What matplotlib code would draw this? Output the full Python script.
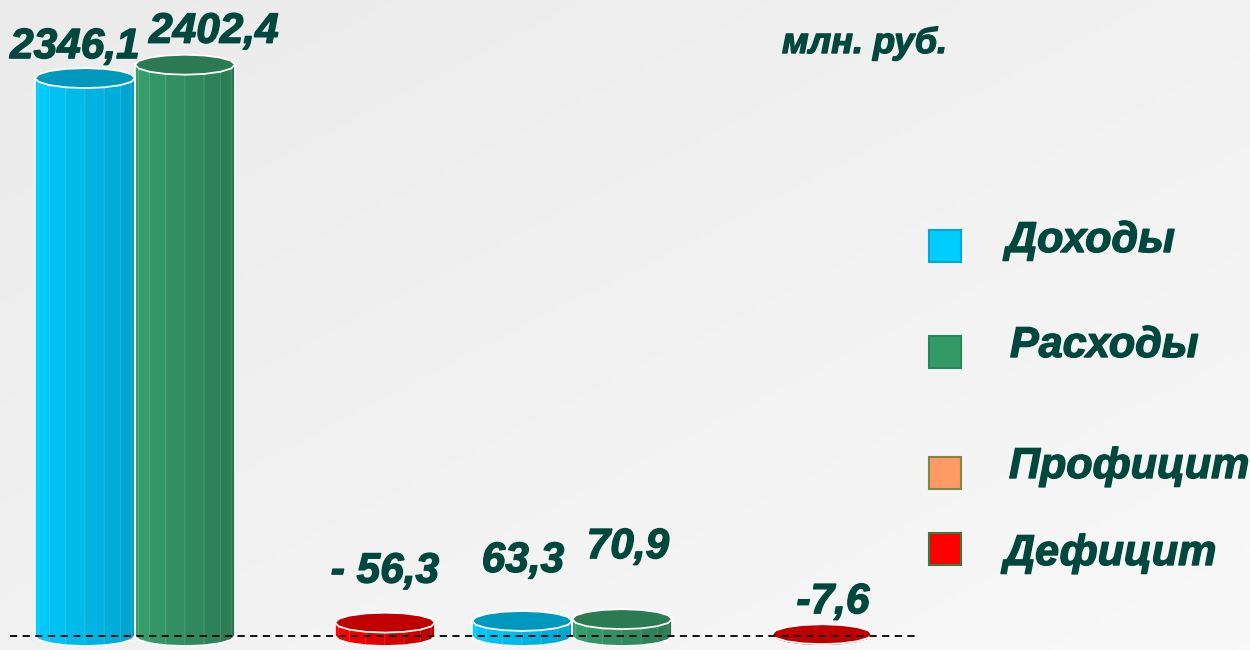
import numpy as np
import matplotlib
matplotlib.use("Agg")
import matplotlib.pyplot as plt
import matplotlib.patheffects as pe
from matplotlib.patches import Polygon, Rectangle
from matplotlib.colors import to_rgb, LinearSegmentedColormap

# --- data ---------------------------------------------------------------
series = ["Доходы", "Расходы", "Профицит", "Дефицит"]
# two clusters, one value per series (None = no bar)
values = [
    [2346.1, 2402.4, None, -56.3],
    [63.3, 70.9, None, -7.6],
]
value_labels = [
    ["2346,1", "2402,4", None, "- 56,3"],
    ["63,3", "70,9", None, "-7,6"],
]
unit_text = "млн. руб."

# --- style --------------------------------------------------------------
TEXT = "#00473E"
FONT = "Liberation Sans"
W, H = 1250, 650
heavy = [pe.withStroke(linewidth=1.0, foreground=TEXT)]
colors = {
    # light face, dark face, cap
    "Доходы": ("#00CCFF", "#009EC8", "#0099BD"),
    "Расходы": ("#35A06C", "#2A7550", "#2B7A52"),
    "Профицит": ("#FF9966", "#CC7040", "#D97A4A"),
    "Дефицит": ("#FF0000", "#B80000", "#C00000"),
}
legend_sq = {
    "Доходы": ("#00CCFF", "#00A8D8"),
    "Расходы": ("#339966", "#22875A"),
    "Профицит": ("#FF9966", "#7A8A40"),
    "Дефицит": ("#FF0000", "#3A7A3A"),
}
slot = 100 / 437
depth_px = 20
px_per_unit = 0.2378
depth = depth_px / px_per_unit

# label offsets (pixels) relative to bar top: dx, dy
label_offsets = [
    [(-10, 20), (29, 22), None, (0, 40)],
    [(1, 49), (6, 61), None, (11, 21)],
]


def mix(c1, c2, t):
    a, b = np.array(to_rgb(c1)), np.array(to_rgb(c2))
    return a + (b - a) * t


def draw_cylinder(ax, xc, h, light, dark, cap):
    n = 8
    theta = np.linspace(np.pi, 0, n + 1)
    xs = xc + slot / 2 * np.cos(theta)
    yb = -depth / 2 * np.sin(theta)
    for i in range(n):
        t = min(1.0, max(0.0, (i - 0.5) / (n - 1.5)))
        col = mix(light, dark, t)
        poly = [(xs[i], yb[i]), (xs[i + 1], yb[i + 1]), (xs[i + 1], h), (xs[i], h)]
        ax.add_patch(Polygon(poly, closed=True, facecolor=col,
                             edgecolor=mix(col, "white", 0.15), lw=0.5, zorder=2))
    outline = [(xs[0], h)] + list(zip(xs, yb)) + [(xs[-1], h)]
    ax.add_patch(Polygon(outline, closed=False, fill=False,
                         edgecolor="white", lw=1.2, zorder=3))
    t = np.linspace(0, 2 * np.pi, 17)
    top = np.c_[xc + slot / 2 * np.cos(t), h + depth / 2 * np.sin(t)]
    ax.add_patch(Polygon(top, closed=True, facecolor=cap,
                         edgecolor="white", lw=1.3, zorder=4))


fig = plt.figure(figsize=(W / 100, H / 100), dpi=100)

# background gradient
bg = fig.add_axes([0, 0, 1, 1], zorder=-1)
gx, gy = np.meshgrid(np.linspace(0, 1, 200), np.linspace(0, 1, 100))
grad = (gx + gy) / 2
bg.imshow(grad, cmap=LinearSegmentedColormap.from_list("bg", ["#EBEBEB", "#F8F8F8"]),
          aspect="auto", extent=[0, 1, 0, 1], origin="upper")
bg.axis("off")

ax = fig.add_axes([0, 0, 1, 1])
ax.patch.set_alpha(0)
ax.axis("off")
ax.set_xlim(-235 / 437, (W - 235) / 437)
ax.set_ylim(-(H - 636) / px_per_unit, 636 / px_per_unit)

for g, group in enumerate(values):
    for s, v in enumerate(group):
        if v is None:
            continue
        xc = g + (s - 1.5) * slot
        h = abs(v)
        light, dark, cap = colors[series[s]]
        draw_cylinder(ax, xc, h, light, dark, cap)
        dx, dy = label_offsets[g][s]
        ax.annotate(value_labels[g][s], (xc, h), xytext=(dx, dy),
                    textcoords="offset pixels", ha="center", va="baseline",
                    fontsize=30.5, fontweight="bold", fontstyle="italic",
                    color=TEXT, family=FONT, zorder=6, path_effects=heavy)

# dashed zero line
ax.hlines(0, (10 - 235) / 437, (915 - 235) / 437, colors="black",
          linestyles=(0, (4, 3)), lw=1.3, zorder=5)

# unit label
fig.text(782 / W, 1 - 53 / H, unit_text, fontsize=26, fontweight="bold",
         fontstyle="italic", color=TEXT, family=FONT, va="baseline",
         path_effects=heavy)

# legend
sq_y = [246, 352, 473, 549]
txt_y = [252, 357, 478, 565]
txt_x = [1006, 1010, 1009, 1004]
for name, sy, ty, tx in zip(series, sq_y, txt_y, txt_x):
    face, edge = legend_sq[name]
    fig.patches.append(Rectangle((929 / W, 1 - (sy + 16) / H), 32 / W, 32 / H,
                                 facecolor=face, edgecolor=edge, lw=1.5,
                                 transform=fig.transFigure, figure=fig))
    fig.text(tx / W, 1 - ty / H, name, fontsize=31, fontweight="bold",
             fontstyle="italic", color=TEXT, family=FONT, va="baseline",
             path_effects=heavy)

fig.savefig("out.png", dpi=100)
